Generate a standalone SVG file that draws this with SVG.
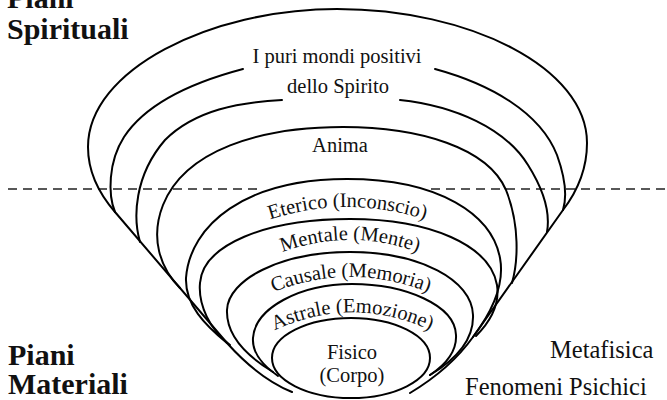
<svg xmlns="http://www.w3.org/2000/svg" width="667" height="400" viewBox="0 0 667 400">
<style>
.c{fill:none;stroke:#000;stroke-width:2;stroke-linecap:round;stroke-linejoin:round}
.d{fill:none;stroke:#222;stroke-width:1.6;stroke-dasharray:9 6}
.t{font-family:"Liberation Serif","Times New Roman",serif;font-size:20.5px;fill:#111}
.b{font-family:"Liberation Serif","Times New Roman",serif;font-size:30px;font-weight:bold;fill:#111}
.s{font-family:"Liberation Serif","Times New Roman",serif;font-size:24.5px;fill:#111}
</style>
<defs>
<path id="pEt" d="M255,225 Q347,189 440,225"/>
<path id="pMe" d="M268,258 Q350,222 432,258"/>
<path id="pCa" d="M262,297 Q350,257 440,297"/>
<path id="pAs" d="M265,335 Q352,290 440,335"/>
</defs>
<rect width="667" height="400" fill="#fff"/>
<g id="divider">
<path class="d" d="M8,189 H263"/>
<path class="d" d="M431,189 H667"/>
</g>
<g id="envelope">
<path class="c" d="M115,212 L227,343 C245,363 265,381 292,392"/>
<path class="c" d="M563,210 L473,337 C458,358 440,375 410,393"/>
</g>
<g id="outer">
<path class="c" d="M115,212 C102,197 88,175 88,147 C88,70 210,9 337,9 C470,9 587,68 587,143 C587,172 576,193 563,210"/>
</g>
<g id="spirito">
<path class="c" d="M115,212 C108,195 108,162 124,137 C145,105 190,83 243,69"/>
<path class="c" d="M435,69 C490,84 540,112 557,155 C566,180 567,197 563,210"/>
<path class="c" d="M140,242 C133,218 134,176 165,140 C195,110 240,102 282,100"/>
<path class="c" d="M400,100 C455,106 505,128 528,165 C545,192 550,215 547,232"/>
<text class="t" x="337" y="63" text-anchor="middle">I puri mondi positivi</text>
<text class="t" x="338" y="93" text-anchor="middle">dello Spirito</text>
</g>
<g id="anima">
<path class="c" d="M180,288 C160,268 150,238 163,205 C185,150 260,127 343,127 C420,127 488,148 506,190 C520,225 518,262 512,283"/>
<text class="t" x="340" y="152" text-anchor="middle">Anima</text>
</g>
<g id="eterico">
<path class="c" d="M227,343 C205,325 185,305 186,278 C190,225 245,179 347,179 C440,179 492,215 500,258 C505,285 492,312 473,337"/>
<text class="t"><textPath href="#pEt" startOffset="50%" text-anchor="middle">Eterico (Inconscio)</textPath></text>
</g>
<g id="mentale">
<path class="c" d="M230,345 C210,330 198,305 200,283 C203,245 265,219 350,219 C430,219 490,245 497,285 C500,305 490,322 476,336"/>
<text class="t"><textPath href="#pMe" startOffset="50%" text-anchor="middle">Mentale (Mente)</textPath></text>
</g>
<g id="causale">
<path class="c" d="M273,372 C245,355 226,335 227,310 C228,280 280,252 350,252 C420,252 472,280 473,315 C474,340 455,360 430,375"/>
<text class="t"><textPath href="#pCa" startOffset="50%" text-anchor="middle">Causale (Memoria)</textPath></text>
</g>
<g id="astrale">
<path class="c" d="M278,376 C262,365 252,352 253,338 C255,308 300,284 352,284 C405,284 455,305 456,335 C457,352 445,365 430,375"/>
<text class="t"><textPath href="#pAs" startOffset="50%" text-anchor="middle">Astrale (Emozione)</textPath></text>
</g>
<g id="fisico">
<ellipse class="c" cx="351" cy="358" rx="79" ry="40"/>
<text class="t" x="352" y="359" text-anchor="middle">Fisico</text>
<text class="t" x="352" y="382" text-anchor="middle">(Corpo)</text>
</g>
<g id="labels">
<text class="b" x="7" y="8">Piani</text>
<text class="b" x="7" y="39">Spirituali</text>
<text class="b" x="8" y="365">Piani</text>
<text class="b" x="8" y="394">Materiali</text>
<text class="s" x="550" y="358">Metafisica</text>
<text class="s" x="465" y="395">Fenomeni Psichici</text>
</g>
</svg>
